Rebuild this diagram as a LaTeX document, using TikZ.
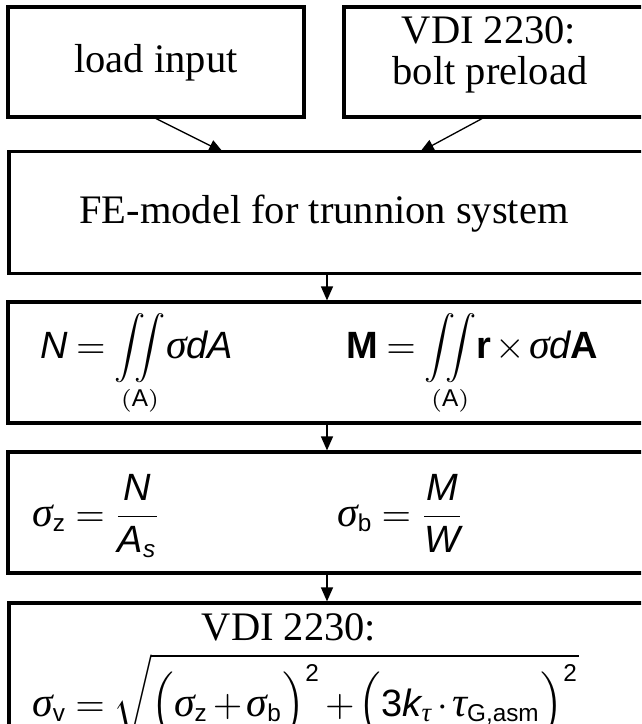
\documentclass[tikz,border=0pt]{standalone}
\usepackage{amsmath}
\usepackage{graphicx}
\usepackage{fontspec}
\setmainfont{Liberation Serif}
\newfontfamily\sansf{Liberation Sans}
\newfontfamily\greekf[Scale=1.1]{Liberation Serif}
\usetikzlibrary{arrows.meta}
\DeclareMathSizes{10}{10}{6.4}{5}
% letters of the formulas: sans for Latin, serif italic for Greek
\newcommand\vi[1]{\text{\sansf\itshape #1}}
\newcommand\vu[1]{\text{\sansf #1}}
\newcommand\vb[1]{\text{\sansf\bfseries #1}}
\newcommand\gk[1]{\text{\greekf\itshape #1}}
% double surface integral with its domain set below
\newcommand\areaint[1]{\mathop{\vcenter{\hbox{\scalebox{0.82}{$\displaystyle\iint$}}}}\limits_{#1}\!}
% formulas are set at 10pt with tight spacing and enlarged as a whole
\newcommand\bigformula[1]{\scalebox{3.8}{$\medmuskip=2mu\thickmuskip=4mu #1$}}
\tikzset{
  stepbox/.style={draw, line width=3.2pt, inner sep=0pt},
  label/.style={inner sep=0pt, font=\fontsize{40.5}{41}\selectfont},
  formula/.style={inner sep=0pt, font=\fontsize{10}{12}\selectfont},
  flow/.style={line width=1.3pt, -{Triangle[length=14pt,width=12pt]}},
}
\begin{document}
\begin{tikzpicture}[x=1pt, y=-1pt]
  \useasboundingbox (0,0) rectangle (641,724);
  \clip (0,0) rectangle (641,724);
  \fill[white] (0,0) rectangle (641,724);

  % frames of the steps
  \node[stepbox, minimum width=296pt, minimum height=110pt] (load) at (156,62) {};
  \node[stepbox, minimum width=304pt, minimum height=110pt] (pre) at (496,62) {};
  \node[stepbox, minimum width=640pt, minimum height=122pt] (fe) at (329,212.5) {};
  \node[stepbox, minimum width=640pt, minimum height=121pt] (res) at (328,362.5) {};
  \node[stepbox, minimum width=640pt, minimum height=121pt] (str) at (328,512.5) {};
  \node[stepbox, minimum width=640pt, minimum height=130pt] (eqv) at (329,668) {};

  % plain texts
  \node[label, anchor=base] (loadtxt) at (156,72) {load input};
  \node[label, anchor=base] (vditop) at (489,43) {VDI 2230:};
  \node[label, anchor=base] (bolt) at (490,84) {bolt preload};
  \node[label, anchor=base] (fetxt) at (324,223) {FE-model for trunnion system};

  % section resultants
  \node[formula, anchor=base west] (fn) at (40,358)
    {\bigformula{\vi{N} = \areaint{(\vu{A})} \gk{σ}\vi{d}\vi{A}}};
  \node[formula, anchor=base west] (fm) at (346,358)
    {\bigformula{\vb{M} = \areaint{(\vu{A})} \vb{r}\times\gk{σ}\vi{d}\vb{A}}};

  % nominal stresses
  \node[formula, anchor=base west] (sz) at (32,526)
    {\bigformula{\gk{σ}_{\vu{z}} = \dfrac{\vi{N}}{\vi{A}_{\vi{s}}}}};
  \node[formula, anchor=base west] (sb) at (337,526)
    {\bigformula{\gk{σ}_{\vu{b}} = \dfrac{\vi{M}}{\vi{W}}}};

  % equivalent stress
  \node[label, anchor=base] (vdi) at (289,640) {VDI 2230:};
  \node[formula, anchor=base west] (sv) at (32,716)
    {\bigformula{\gk{σ}_{\vu{v}} = \sqrt{\Bigl(\gk{σ}_{\vu{z}}+\gk{σ}_{\vu{b}}\Bigr)^{\vu{2}}
      +\Bigl(\vu{3}\vi{k}_{\gk{τ}}\cdot\gk{τ}_{\vu{G,asm}}\Bigr)^{\vu{2}}}}};

  % connectors
  \coordinate (t1) at (223,152);
  \coordinate (t2) at (420,152);
  \draw[flow] (load.south) -- (t1);
  \draw[flow] (pre.south -| 482,0) -- (t2);
  \draw[flow] (fe.south -| 327,0) -- (res.north -| 327,0);
  \draw[flow] (res.south -| 327,0) -- (str.north -| 327,0);
  \draw[flow] (str.south -| 327,0) -- (eqv.north -| 327,0);
\end{tikzpicture}
\end{document}
